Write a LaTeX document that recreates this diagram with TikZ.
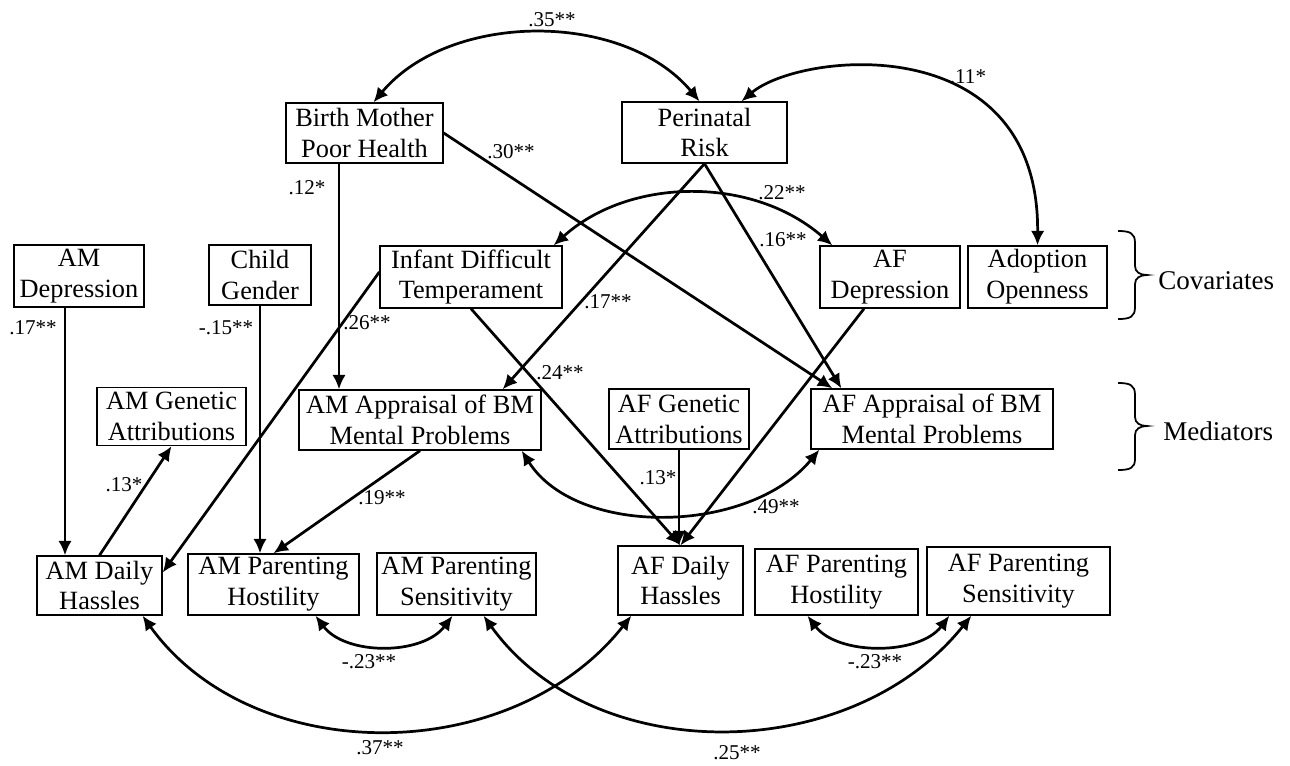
\documentclass[tikz,border=0pt]{standalone}
\usepackage{fontspec}
\setmainfont{Liberation Serif}
\usepackage{tikz}
\usetikzlibrary{arrows.meta,calc}
\newcommand{\varfont}{\fontsize{15}{17.6}\selectfont}
\newcommand{\groupfont}{\fontsize{15.4}{18}\selectfont}
\newcommand{\coeffont}{\fontsize{12}{13}\selectfont}

\begin{document}
\begin{tikzpicture}[>={Latex[length=0.29cm,width=0.27cm]},x=0.02cm,y=-0.02cm,
  var/.style={draw,line width=0.8pt,align=center,inner sep=0pt,font=\varfont},
  coef/.style={inner sep=0pt,font=\coeffont},
  effect/.style={->,line width=1.55pt},
  corr/.style={<->,line width=1.55pt},
  bracket/.style={line width=1pt}]
\fill[white] (0,0) rectangle (1290,765);
\useasboundingbox (0,0) rectangle (1290,765);

% covariates
\node[var,minimum width=3.14cm,minimum height=1.2cm] (bmhealth) at (364.5,133) {Birth Mother\\Poor Health};
\node[var,minimum width=3.3cm,minimum height=1.22cm] (peririsk) at (704.5,132.5) {Perinatal\\Risk};
\node[var,minimum width=2.6cm,minimum height=1.24cm] (amdep) at (79,276) {AM\\Depression};
\node[var,minimum width=2.04cm,minimum height=1.2cm] (gender) at (260,275) {Child\\Gender};
\node[var,minimum width=3.64cm,minimum height=1.24cm] (infant) at (471,277) {Infant Difficult\\Temperament};
\node[var,minimum width=2.8cm,minimum height=1.24cm] (afdep) at (890,277) {AF\\Depression};
\node[var,minimum width=2.78cm,minimum height=1.24cm] (adopt) at (1037.5,277) {Adoption\\Openness};

% mediators
\node[var,minimum width=2.98cm,minimum height=1.16cm] (amgen) at (171.5,416.5) {AM Genetic\\Attributions};
\node[var,minimum width=4.84cm,minimum height=1.2cm] (amapp) at (420,420) {AM Appraisal of BM\\Mental Problems};
\node[var,minimum width=2.8cm,minimum height=1.2cm] (afgen) at (679,419) {AF Genetic\\Attributions};
\node[var,minimum width=4.84cm,minimum height=1.2cm] (afapp) at (932,419) {AF Appraisal of BM\\Mental Problems};

% outcomes
\node[var,minimum width=2.5cm,minimum height=1.18cm] (amhass) at (99.5,585.5) {AM Daily\\Hassles};
\node[var,minimum width=3.42cm,minimum height=1.22cm] (amhost) at (273.5,584.5) {AM Parenting\\Hostility};
\node[var,minimum width=3.18cm,minimum height=1.24cm] (amsens) at (456.5,584) {AM Parenting\\Sensitivity};
\node[var,minimum width=2.5cm,minimum height=1.38cm] (afhass) at (680.5,580.5) {AF Daily\\Hassles};
\node[var,minimum width=3.26cm,minimum height=1.32cm] (afhost) at (836.5,582) {AF Parenting\\Hostility};
\node[var,minimum width=3.66cm,minimum height=1.36cm] (afsens) at (1018.5,581) {AF Parenting\\Sensitivity};

% group brackets
\draw[bracket] (1118,231) .. controls (1130,231) and (1135,233) .. (1135,243) -- (1135,266)
  .. controls (1135,272) and (1140,275) .. (1147,275) .. controls (1140,275) and (1135,278) .. (1135,284)
  -- (1135,307) .. controls (1135,317) and (1130,319) .. (1118,319);
\draw[bracket] (1118,383) .. controls (1130,383) and (1135,385) .. (1135,395) -- (1135,417)
  .. controls (1135,423) and (1140,426) .. (1147,426) .. controls (1140,426) and (1135,429) .. (1135,435)
  -- (1135,459) .. controls (1135,468) and (1130,470) .. (1118,470);
\node[anchor=west,inner sep=0pt,font=\groupfont] (covlab) at (1158,281) {Covariates};
\node[anchor=west,inner sep=0pt,font=\groupfont] (medlab) at (1163,431) {Mediators};

% paths
\draw[effect] ($(amdep.south)+(-14,0)$) coordinate (amdrop) -- (amdrop |- amhass.north);
\draw[effect] (amhass.north) -- (amgen.south);
\draw[effect] (gender.south) -- (gender.south |- amhost.north);
\draw[effect] ($(infant.west)+(0,-5)$) -- ($(amhass.east)+(0,-13)$);
\draw[effect] ($(bmhealth.south)+(-25.5,0)$) coordinate (bmdrop) -- (bmdrop |- amapp.north);
\draw[effect] (bmhealth.east) -- ($(afapp.north west)+(22,0)$);
\draw[effect] (peririsk.south) -- ($(amapp.north east)+(-39,0)$);
\draw[effect] (peririsk.south) -- ($(afapp.north west)+(31,0)$);
\draw[effect] (infant.south) -- (afhass.north);
\draw[effect] (afgen.south) -- (afgen.south |- afhass.north);
\draw[effect] ($(afdep.south)+(-26,0)$) -- (afhass.north);
\draw[effect] (amapp.south) -- (amhost.north);

% correlations
\draw[corr] ($(bmhealth.north)+(9,0)$) .. controls +(76,-91) and +(-76,-91) .. ($(peririsk.north)+(-5,0)$);
\draw[corr] ($(peririsk.north)+(37,0)$) .. controls +(59,-50) and +(2,-218) .. (adopt.north);
\draw[corr] ($(infant.north east)+(-9,0)$) .. controls +(75,-68) and +(-80,-70) .. ($(afdep.north west)+(13,0)$);
\draw[corr] ($(amapp.south east)+(-20,0)$) .. controls +(55,87) and +(-70,85) .. ($(afapp.south west)+(9,0)$);
\draw[corr] ($(amhass.south)+(43,0)$) .. controls +(110,153) and +(-120,152) .. ($(afhass.south west)+(14,0)$);
\draw[corr] ($(amsens.south)+(27,0)$) .. controls +(110,153) and +(-120,150) .. ($(afsens.south west)+(45,0)$);
\draw[corr] ($(amhost.south)+(42,0)$) .. controls +(30,40) and +(-30,40) .. ($(amsens.south)+(-4,0)$);
\draw[corr] ($(afhost.south)+(-29,0)$) .. controls +(30,40) and +(-30,40) .. ($(afsens.south west)+(23,0)$);

% coefficients
\node[coef] (c35) at (552,20) {.35**};
\node[coef] (c11) at (968,77) {.11*};
\node[coef] (c30) at (511,152) {.30**};
\node[coef] (c12) at (307,188) {.12*};
\node[coef] (c22) at (782,193) {.22**};
\node[coef] (c16) at (783,240) {.16**};
\node[coef] (c17a) at (33,328) {.17**};
\node[coef] (c15) at (226,328) {-.15**};
\node[coef] (c26) at (367,323) {.26**};
\node[coef] (c17b) at (608,302) {.17**};
\node[coef] (c24) at (560,373) {.24**};
\node[coef] (c13a) at (124,485) {.13*};
\node[coef] (c19) at (382,498) {.19**};
\node[coef] (c13b) at (658,478) {.13*};
\node[coef] (c49) at (776,507) {.49**};
\node[coef] (c23a) at (369,662) {-.23**};
\node[coef] (c23b) at (875,662) {-.23**};
\node[coef] (c37) at (380,748) {.37**};
\node[coef] (c25) at (737,753) {.25**};
\end{tikzpicture}
\end{document}
